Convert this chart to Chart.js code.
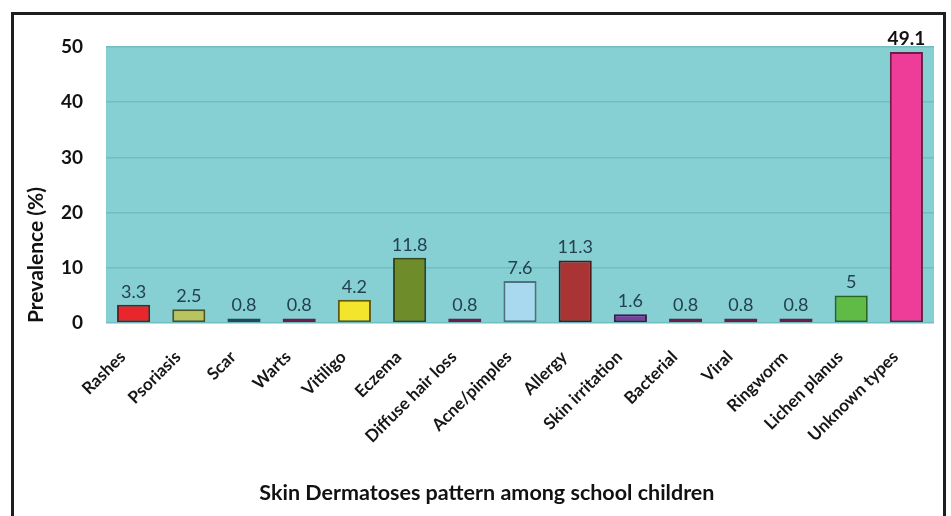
<!DOCTYPE html>
<html>
<head>
<meta charset="utf-8">
<script src="https://cdn.jsdelivr.net/npm/chart.js@4"></script>
<style>
  html, body { margin: 0; padding: 0; background: #ffffff; }
  #wrap { position: relative; width: 951px; height: 516px; overflow: hidden; }
  #frame { position: absolute; left: 11px; top: 12px; width: 929px; height: 520px;
           border-top: 3px solid #1e1e1e; border-left: 3px solid #1e1e1e; border-right: 3px solid #1e1e1e; }
  canvas { position: absolute; left: 0; top: 0; }
</style>
</head>
<body>
<div id="wrap">
  <div id="frame"></div>
  <canvas id="c" width="951" height="516"></canvas>
</div>
<script>
const categories = ["Rashes", "Psoriasis", "Scar", "Warts", "Vitiligo", "Eczema", "Diffuse hair loss",
  "Acne/pimples", "Allergy", "Skin irritation", "Bacterial", "Viral", "Ringworm", "Lichen planus", "Unknown types"];
const prevalence = [3.3, 2.5, 0.8, 0.8, 4.2, 11.8, 0.8, 7.6, 11.3, 1.6, 0.8, 0.8, 0.8, 5, 49.1];
const yTicks = [0, 10, 20, 30, 40, 50];
const barColors = ["#e8262b", "#b9c45e", "#3d7d94", "#d84a8e", "#f2e52c", "#6f8c2b", "#d84a8e",
  "#a9d9ef", "#aa3333", "#7d3f9c", "#d84a8e", "#d84a8e", "#d84a8e", "#5fbb46", "#ee3d98"];
const barBorders = ["#6e1a1a", "#4e5424", "#23485a", "#6a2045", "#5e5a16", "#34451a", "#6a2045",
  "#50707c", "#4e1616", "#3a1d4a", "#6a2045", "#6a2045", "#6a2045", "#2a6420", "#6e1c46"];
const xTitle = "Skin Dermatoses pattern among school children";
const yTitle = "Prevalence (%)";

const FONT = "Lato, 'Open Sans', sans-serif";

const bgPlugin = {
  id: 'bg',
  beforeDraw(chart) {
    const {ctx, chartArea: a} = chart;
    ctx.save();
    ctx.fillStyle = '#86cfd3';
    ctx.fillRect(a.left, a.top, a.right - a.left, a.bottom - a.top);
    ctx.restore();
  }
};

const valuePlugin = {
  id: 'values',
  afterDatasetsDraw(chart) {
    const {ctx} = chart;
    const meta = chart.getDatasetMeta(0);
    const data = chart.data.datasets[0].data;
    const maxV = Math.max(...data);
    ctx.save();
    ctx.textAlign = 'center';
    ctx.textBaseline = 'bottom';
    meta.data.forEach((el, i) => {
      const v = data[i];
      const isMax = v === maxV;
      ctx.font = (isMax ? 'bold 19px ' : '18px ') + FONT;
      ctx.fillStyle = isMax ? '#111111' : '#23414e';
      ctx.fillText(String(v), el.x, el.y - 4);
    });
    ctx.restore();
  }
};

// x-axis title drawn slightly left of centre, as in the original figure
const xTitlePlugin = {
  id: 'xTitle',
  afterDraw(chart) {
    const {ctx, chartArea: a} = chart;
    ctx.save();
    ctx.font = 'bold 21.5px ' + FONT;
    ctx.fillStyle = '#111111';
    ctx.textAlign = 'center';
    ctx.textBaseline = 'middle';
    ctx.fillText(xTitle, a.left + (a.right - a.left) * 0.46, chart.height - 23);
    ctx.restore();
  }
};

new Chart(document.getElementById('c'), {
  type: 'bar',
  data: {
    labels: categories,
    datasets: [{
      data: prevalence,
      backgroundColor: barColors,
      borderColor: barBorders,
      borderWidth: 2,
      borderSkipped: false,
      barPercentage: 0.6,
      categoryPercentage: 1.0
    }]
  },
  options: {
    responsive: false,
    animation: false,
    devicePixelRatio: 1,
    layout: { padding: { left: 0, right: 17, top: 47, bottom: 0 } },
    plugins: { legend: { display: false }, tooltip: { enabled: false } },
    scales: {
      x: {
        grid: { display: false, drawTicks: false },
        border: { display: false },
        ticks: {
          autoSkip: false, minRotation: 45, maxRotation: 45, padding: 24, labelOffset: -11,
          color: '#161616', font: { family: FONT, size: 17, weight: 'bold' }
        },
        title: { display: false },
        afterFit(scale) { scale.height = 516 - 323; }
      },
      y: {
        min: 0, max: 50,
        afterBuildTicks(scale) { scale.ticks = yTicks.map(v => ({ value: v })); },
        grid: { color: '#72bdc3', lineWidth: 1.5, drawTicks: false },
        border: { display: false },
        ticks: {
          padding: 23, color: '#111111',
          font: { family: FONT, size: 19, weight: 'bold' }
        },
        title: {
          display: true, text: yTitle, align: 'start', color: '#111111',
          font: { family: FONT, size: 21, weight: 'bold' },
          padding: { top: 24, bottom: 0 }
        },
        afterFit(scale) { scale.width = 106; }
      }
    }
  },
  plugins: [bgPlugin, valuePlugin, xTitlePlugin]
});
</script>
</body>
</html>
